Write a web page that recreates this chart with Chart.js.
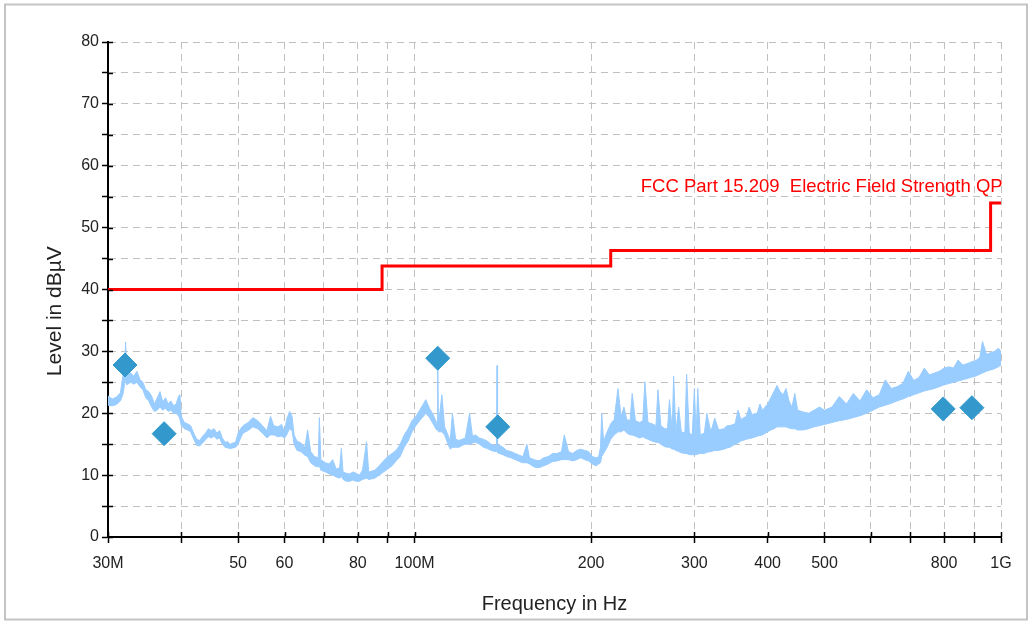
<!DOCTYPE html>
<html>
<head>
<meta charset="utf-8">
<title>Level in dBµV</title>
<script src="https://cdn.jsdelivr.net/npm/chart.js@4.4.1/dist/chart.umd.min.js"></script>
<style>
    html, body { margin: 0; padding: 0; background: #fff; }
    #wrap { width: 1031px; height: 622px; }
</style>
</head>
<body>
<div id="wrap"><canvas id="emiChart" width="1031" height="622"></canvas></div>
<script>
// measured trace (MHz), upper and lower edge of the noise band in dBµV
const traceFreq = [
    30.0, 30.5, 31.0, 31.5, 31.8, 32.0, 32.15, 32.3, 32.8, 33.2, 33.6, 34.0, 34.4, 34.8, 35.2, 35.6,
    36.0, 36.4, 36.8, 37.2, 37.6, 38.0, 38.4, 38.8, 39.2, 39.6, 39.8, 40.0, 40.5, 41.0, 41.5, 42.0,
    42.5, 43.0, 43.5, 44.0, 44.5, 45.0, 45.5, 46.0, 46.5, 47.0, 47.5, 48.0, 48.5, 49.0, 49.5, 50.0,
    50.5, 51.0, 52.0, 53.0, 54.0, 55.0, 56.0, 56.8, 57.5, 58.5, 59.3, 60.0, 60.5, 61.2, 61.8, 62.3,
    63.0, 64.0, 65.0, 65.7, 66.5, 67.5, 68.5, 68.8, 69.2, 70.5, 71.5, 72.5, 73.5, 74.5, 75.0, 75.5,
    76.5, 77.5, 78.5, 79.5, 80.5, 81.5, 82.8, 83.5, 85.5, 87.0, 88.5, 90.0, 91.5, 93.0, 94.5, 96.0,
    97.5, 99.0, 100.5, 102.0, 103.5, 104.5, 106.0, 107.5, 109.0, 109.3, 109.5, 109.8, 111.3, 112.5, 114.0, 115.0,
    116.0, 117.5, 119.0, 120.5, 122.0, 124.1, 125.5, 127.0, 129.0, 131.0, 133.0, 135.0, 137.0, 137.9, 138.2, 138.5,
    141.5, 143.5, 146.0, 148.5, 151.0, 153.0, 155.4, 157.0, 160.0, 163.0, 166.0, 169.0, 172.0, 175.0, 178.0, 180.0,
    183.0, 186.0, 189.0, 192.0, 195.0, 198.0, 201.0, 204.0, 206.0, 207.5, 208.5, 210.0, 213.0, 216.0, 219.0, 222.2,
    225.0, 227.5, 230.0, 233.0, 235.0, 238.0, 242.0, 245.0, 247.0, 250.0, 254.0, 258.0, 260.0, 263.0, 267.0, 270.0,
    272.0, 275.0, 276.5, 279.0, 282.0, 285.0, 289.0, 291.0, 294.0, 297.5, 300.0, 302.0, 304.0, 307.0, 312.0, 315.0,
    320.0, 325.0, 330.0, 337.0, 341.0, 345.0, 352.0, 356.0, 360.0, 368.0, 372.0, 376.0, 384.0, 388.0, 392.0, 400.0,
    405.0, 410.0, 415.0, 420.0, 425.0, 430.0, 435.0, 440.0, 445.0, 450.0, 460.0, 470.0, 480.0, 490.0, 500.0, 515.0,
    530.0, 545.0, 560.0, 575.0, 590.0, 605.0, 620.0, 635.0, 650.0, 665.0, 680.0, 695.0, 710.0, 725.0, 740.0, 755.0,
    770.0, 785.0, 800.0, 815.0, 830.0, 845.0, 860.0, 875.0, 890.0, 905.0, 920.0, 930.0, 945.0, 960.0, 975.0, 990.0,
    1000.0
];
const traceHigh = [
    22.8, 22.3, 22.6, 23.3, 26.0, 27.5, 31.5, 26.8, 26.5, 26.0, 26.8, 25.5, 25.0, 23.8, 23.5, 22.8,
    21.5, 22.5, 23.5, 21.8, 22.5, 21.5, 22.0, 21.2, 21.5, 22.8, 23.0, 19.5, 18.5, 18.3, 18.0, 16.8,
    15.8, 15.6, 16.3, 16.8, 17.5, 17.2, 17.5, 16.8, 17.2, 16.0, 15.3, 15.4, 15.0, 15.2, 15.3, 16.8,
    17.5, 18.0, 18.5, 19.3, 18.8, 18.0, 17.2, 19.5, 18.0, 17.8, 18.2, 17.0, 19.0, 20.3, 19.5, 16.5,
    15.5, 15.2, 14.5, 17.3, 13.8, 13.0, 12.8, 19.3, 12.5, 12.0, 11.8, 12.5, 11.0, 11.2, 14.3, 10.5,
    10.3, 10.2, 10.5, 10.3, 10.0, 10.8, 15.4, 10.5, 10.8, 11.5, 12.3, 13.0, 13.5, 14.0, 15.0, 16.5,
    17.5, 18.8, 19.5, 20.5, 21.5, 22.2, 20.8, 19.8, 18.5, 18.0, 29.0, 18.0, 23.0, 17.8, 16.5, 15.5,
    20.0, 15.8, 15.6, 15.8, 16.0, 20.0, 16.3, 16.5, 16.0, 15.8, 15.5, 15.0, 14.8, 14.8, 27.7, 15.0,
    14.5, 14.0, 13.8, 13.5, 13.2, 13.0, 15.0, 12.8, 12.5, 12.3, 12.8, 13.0, 13.5, 13.5, 13.8, 16.5,
    13.8, 13.5, 14.0, 14.2, 14.0, 13.8, 13.0, 12.8, 13.0, 14.5, 20.0, 15.5, 17.0, 18.3, 19.0, 24.0,
    19.5, 21.0, 19.0, 18.8, 23.2, 18.8, 18.5, 18.8, 25.1, 18.5, 18.3, 18.0, 23.8, 18.0, 17.5, 17.5,
    22.2, 17.3, 26.0, 17.0, 21.0, 17.0, 16.8, 26.3, 16.8, 16.5, 24.0, 16.5, 24.0, 16.5, 16.8, 20.0,
    17.0, 19.2, 17.3, 17.5, 18.0, 18.0, 18.3, 20.5, 19.0, 19.5, 21.0, 19.8, 20.0, 21.5, 20.5, 21.5,
    22.5, 23.5, 24.5, 23.5, 23.0, 24.0, 22.0, 21.0, 23.2, 20.5, 20.2, 20.0, 20.5, 21.0, 20.5, 21.0,
    22.7, 21.5, 23.2, 22.0, 23.8, 22.5, 23.0, 25.4, 24.0, 24.3, 24.8, 26.8, 25.3, 25.8, 27.3, 26.2,
    26.5, 26.8, 27.3, 27.5, 27.3, 28.6, 27.8, 28.0, 28.3, 28.5, 29.0, 31.6, 29.5, 29.8, 30.0, 30.5,
    30.0
];
const traceLow = [
    21.3, 21.2, 21.4, 22.0, 23.0, 24.5, 25.5, 24.6, 25.0, 24.7, 25.0, 24.3, 23.8, 22.5, 22.0, 21.0,
    20.3, 20.5, 21.0, 20.5, 20.8, 20.3, 20.5, 20.0, 20.0, 19.5, 19.0, 18.0, 17.5, 17.3, 17.0, 15.8,
    14.8, 14.7, 15.2, 15.7, 16.2, 16.0, 16.3, 15.8, 16.0, 15.0, 14.5, 14.4, 14.3, 14.4, 14.5, 15.0,
    16.0, 16.8, 17.2, 17.8, 17.5, 16.8, 16.0, 16.5, 16.5, 16.2, 16.3, 16.0, 16.5, 17.5, 17.2, 15.0,
    14.0, 13.8, 13.2, 13.0, 12.0, 11.5, 11.3, 11.5, 10.8, 10.5, 10.2, 10.0, 9.7, 9.5, 9.8, 9.3,
    9.0, 9.0, 9.2, 9.0, 9.0, 9.3, 9.5, 9.3, 9.5, 10.0, 10.5, 11.0, 11.5, 12.3, 13.0, 14.5,
    15.5, 17.0, 18.0, 18.8, 19.5, 20.0, 19.3, 18.3, 17.3, 17.3, 17.5, 17.0, 17.0, 16.5, 15.0, 14.2,
    14.5, 14.5, 14.5, 14.8, 15.0, 15.0, 15.2, 15.3, 15.0, 14.5, 14.3, 14.0, 13.8, 13.8, 14.0, 13.6,
    13.3, 13.0, 12.8, 12.5, 12.2, 12.0, 12.0, 11.8, 11.3, 11.2, 11.5, 11.8, 12.2, 12.3, 12.5, 12.5,
    12.5, 12.3, 12.5, 12.8, 12.5, 12.3, 11.8, 11.5, 11.8, 12.0, 13.0, 13.5, 14.5, 15.8, 16.5, 17.0,
    17.0, 17.3, 16.8, 16.5, 16.5, 16.3, 16.0, 16.2, 16.0, 15.8, 15.5, 15.3, 15.3, 15.0, 14.6, 14.5,
    14.5, 14.2, 14.2, 14.0, 13.8, 13.6, 13.5, 13.5, 13.3, 13.3, 13.3, 13.3, 13.4, 13.5, 13.5, 13.7,
    13.8, 14.0, 14.0, 14.2, 14.4, 14.5, 15.0, 15.2, 15.5, 15.8, 15.9, 16.0, 16.3, 16.4, 16.5, 17.0,
    17.3, 17.5, 17.8, 17.8, 17.8, 17.8, 17.6, 17.5, 17.5, 17.3, 17.3, 17.5, 17.8, 18.0, 18.2, 18.5,
    18.8, 19.0, 19.3, 19.6, 20.0, 20.5, 21.0, 21.3, 21.6, 22.0, 22.3, 22.7, 23.0, 23.3, 23.6, 23.8,
    24.0, 24.3, 24.6, 24.8, 25.0, 25.2, 25.4, 25.6, 25.8, 26.0, 26.3, 26.5, 26.8, 27.0, 27.2, 27.5,
    27.8
];

// FCC limit line (step)
const limitFreq = [30, 88, 88, 216, 216, 960, 960, 1000];
const limitLevel = [40, 40, 43.8, 43.8, 46.3, 46.3, 54, 54];

// final measurement points
const markerFreq = [32.07, 37.4, 109.5, 138.6, 797, 892];
const markerLevel = [27.8, 16.7, 28.9, 17.8, 20.7, 20.9];

// x axis ticks (MHz) and their printed labels
const xTickValues = [30, 40, 50, 60, 70, 80, 90, 100, 200, 300, 400, 500, 600, 700, 800, 900, 1000];
const xTickLabels = ['30M', '', '50', '60', '', '80', '', '100M', '200', '300', '400', '500', '', '', '800', '', '1G'];

const limitName = 'FCC Part 15.209  Electric Field Strength QP';
const yTitle = 'Level in dBµV';

const FONT = '"Liberation Sans", Arial, sans-serif';

const toPoints = (xs, ys) => xs.map((x, i) => ({ x: x, y: ys[i] }));

// small ticks inside the axes, captions, and the outer frame
const decorations = {
    id: 'decorations',
    afterDraw(chart) {
        const ctx = chart.ctx;
        const area = chart.chartArea;
        const xs = chart.scales.x;
        const ys = chart.scales.y;

        ctx.save();
        ctx.strokeStyle = '#000';
        ctx.lineWidth = 1.5;
        ctx.beginPath();
        xTickValues.forEach(v => {
            const px = Math.round(xs.getPixelForValue(v)) + 0.5;
            ctx.moveTo(px, area.bottom);
            ctx.lineTo(px, area.bottom - 5);
        });
        for (let v = 0; v <= 80; v += 5) {
            const py = Math.round(ys.getPixelForValue(v)) + 0.5;
            ctx.moveTo(area.left, py);
            ctx.lineTo(area.left + 5, py);
        }
        ctx.stroke();
        ctx.restore();

        // limit caption, cut at the right edge like the original
        ctx.save();
        ctx.beginPath();
        ctx.rect(area.left, area.top - 20, area.right - area.left + 3, area.bottom - area.top + 20);
        ctx.clip();
        ctx.fillStyle = '#ff0000';
        ctx.font = '18.5px ' + FONT;
        ctx.textAlign = 'left';
        ctx.textBaseline = 'middle';
        ctx.fillText(limitName, xs.getPixelForValue(243), ys.getPixelForValue(56.6));
        ctx.restore();

        // y axis title, sits a bit below the middle in the original
        ctx.save();
        ctx.translate(55, ys.getPixelForValue(36.5));
        ctx.rotate(-Math.PI / 2);
        ctx.fillStyle = '#222';
        ctx.font = '21px ' + FONT;
        ctx.textAlign = 'center';
        ctx.textBaseline = 'middle';
        ctx.fillText(yTitle, 0, 0);
        ctx.restore();

        ctx.save();
        ctx.strokeStyle = '#c4c4c4';
        ctx.lineWidth = 2;
        ctx.strokeRect(5, 4.5, 1022, 615);
        ctx.restore();
    }
};

const ctx = document.getElementById('emiChart').getContext('2d');
new Chart(ctx, {
    type: 'line',
    data: {
        datasets: [
            {
                label: 'Final',
                data: toPoints(markerFreq, markerLevel),
                showLine: false,
                pointStyle: 'rectRot',
                pointRadius: 12,
                pointBackgroundColor: '#3399cc',
                pointBorderColor: '#3399cc',
                pointBorderWidth: 1
            },
            {
                label: limitName,
                data: toPoints(limitFreq, limitLevel),
                borderColor: '#ff0000',
                borderWidth: 3,
                pointRadius: 0,
                fill: false
            },
            {
                label: 'Preview',
                data: toPoints(traceFreq, traceHigh),
                borderColor: '#99ccff',
                borderWidth: 1,
                pointRadius: 0,
                fill: false
            },
            {
                label: 'Preview low',
                data: toPoints(traceFreq, traceLow),
                borderColor: '#99ccff',
                backgroundColor: '#99ccff',
                borderWidth: 1,
                pointRadius: 0,
                fill: '-1'
            }
        ]
    },
    options: {
        responsive: false,
        animation: false,
        layout: {
            padding: { left: 39, right: 30, top: 42, bottom: 0 }
        },
        elements: {
            line: { tension: 0 }
        },
        plugins: {
            legend: { display: false },
            tooltip: { enabled: false }
        },
        scales: {
            x: {
                type: 'logarithmic',
                min: 30,
                max: 1000,
                afterBuildTicks: function (scale) {
                    scale.ticks = xTickValues.map(v => ({ value: v }));
                },
                afterFit: function (scale) {
                    scale.height = 85;
                },
                grid: {
                    color: '#c0c0c0',
                    lineWidth: 1,
                    tickColor: '#000',
                    tickWidth: 1.5,
                    tickLength: 6
                },
                border: {
                    color: '#000',
                    width: 2,
                    dash: [7, 5]
                },
                ticks: {
                    autoSkip: false,
                    maxRotation: 0,
                    padding: 11,
                    color: '#222',
                    font: { family: FONT, size: 16 },
                    callback: function (value) {
                        const i = xTickValues.indexOf(value);
                        return i >= 0 ? xTickLabels[i] : '';
                    }
                },
                title: {
                    display: true,
                    text: 'Frequency in Hz',
                    color: '#222',
                    font: { family: FONT, size: 20 },
                    padding: { top: 4, bottom: 6 }
                }
            },
            y: {
                min: 0,
                max: 80,
                afterFit: function (scale) {
                    scale.width = 69;
                },
                grid: {
                    color: '#c0c0c0',
                    lineWidth: 1,
                    tickColor: '#000',
                    tickWidth: 1.5,
                    tickLength: 6
                },
                border: {
                    color: '#000',
                    width: 2,
                    dash: [7, 5]
                },
                ticks: {
                    stepSize: 5,
                    padding: 3,
                    color: '#222',
                    font: { family: FONT, size: 16 },
                    callback: function (value) {
                        return value % 10 === 0 ? value : '';
                    }
                },
                title: {
                    display: false
                }
            }
        }
    },
    plugins: [decorations]
});
</script>
</body>
</html>
